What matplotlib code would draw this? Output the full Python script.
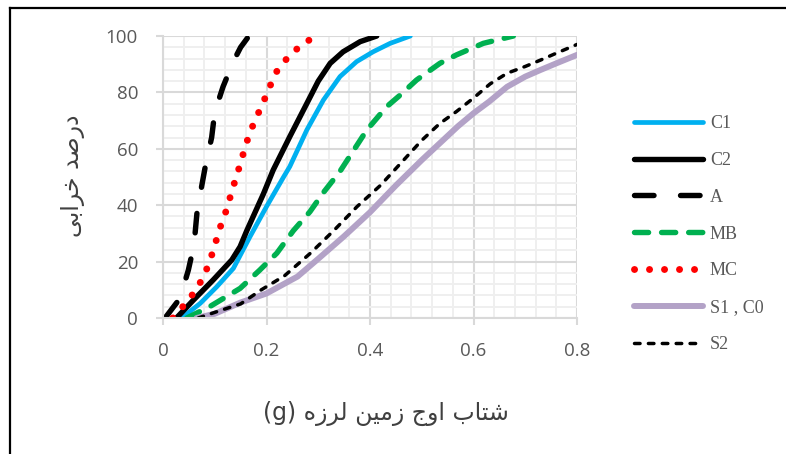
import matplotlib
matplotlib.use("Agg")
import matplotlib.pyplot as plt
from matplotlib.lines import Line2D
from matplotlib.ticker import MultipleLocator

# ---- data ----
c1_x = [0.036, 0.072, 0.104, 0.136, 0.168, 0.200, 0.233, 0.245, 0.278, 0.310, 0.342, 0.374, 0.406, 0.439, 0.478]
c1_y = [0, 5.2, 11.1, 17.6, 28.8, 39.5, 50, 53.7, 66.7, 77.3, 85.6, 90.9, 94.4, 97.4, 100]

c2_x = [0.026, 0.059, 0.097, 0.133, 0.149, 0.162, 0.194, 0.213, 0.245, 0.278, 0.300, 0.323, 0.348, 0.381, 0.413]
c2_y = [0, 6.4, 13.5, 20.6, 25.3, 31, 44, 52.5, 64.3, 76.1, 84, 90.3, 94.4, 98, 100]

a_x = [0.004, 0.033, 0.049, 0.060, 0.066, 0.073, 0.082, 0.094, 0.100, 0.116, 0.136, 0.150, 0.166]
a_y = [0, 7, 17, 26, 38, 45, 54, 64, 73, 82, 91, 96, 100]

mb_x = [0.046, 0.090, 0.149, 0.187, 0.220, 0.252, 0.284, 0.310, 0.342, 0.394, 0.432, 0.458, 0.490, 0.535, 0.567, 0.619, 0.677]
mb_y = [0, 4, 10.5, 17, 23, 31, 37.7, 44.5, 52, 66.7, 74.9, 79, 84.4, 90.3, 93.3, 97.4, 100]

mc_x = [0.019, 0.041, 0.063, 0.080, 0.092, 0.102, 0.112, 0.124, 0.133, 0.144, 0.154, 0.164, 0.176, 0.191, 0.204, 0.218, 0.238, 0.265, 0.295]
mc_y = [0, 4.6, 9.7, 15.2, 21, 27, 33, 39, 45, 51.4, 57.6, 63.6, 69.4, 75.3, 81, 87, 91.7, 96.5, 100]

s1_x = [0.065, 0.10, 0.15, 0.20, 0.26, 0.30, 0.35, 0.40, 0.45, 0.50, 0.535, 0.57, 0.60, 0.63, 0.665, 0.70, 0.73, 0.76, 0.80]
s1_y = [0, 1.5, 5.5, 8.7, 14.7, 21, 29, 37.5, 47, 56, 62, 68, 72.6, 76.7, 82, 85.6, 88, 90.3, 93.3]

s2_x = [0.068, 0.10, 0.15, 0.19, 0.235, 0.285, 0.33, 0.375, 0.42, 0.465, 0.50, 0.535, 0.567, 0.60, 0.632, 0.665, 0.70, 0.73, 0.76, 0.80]
s2_y = [0, 2, 5, 10, 15, 23, 31, 39.5, 47, 56, 63, 69, 73.2, 78, 83, 86.8, 89.2, 91.5, 93.9, 97]

labels = ["C1", "C2", "A", "MB", "MC", "S1 , C0", "S2"]
x_ticks = [0, 0.2, 0.4, 0.6, 0.8]
x_ticklabels = ["0", "0.2", "0.4", "0.6", "0.8"]
y_ticks = [0, 20, 40, 60, 80, 100]

# Persian labels (presentation forms, visual order)
xlabel_text = "(g) \uFEE9\uFEAF\uFEAE\uFEDF \uFEE6\uFEF4\uFEE3\uFEAF \uFE9D\uFEED\uFE8D \uFE8F\uFE8E\uFE98\uFEB7"
ylabel_text = "\uFEF0\uFE91\uFE8D\uFEAE\uFEA7 \uFEAA\uFEBB\uFEAD\uFEA9"

W, H = 786, 454
fig = plt.figure(figsize=(W / 100, H / 100), dpi=100)
ax = fig.add_axes([163 / W, 1 - 318 / H, (577 - 163) / W, (318 - 36) / H])

series = [
    (c1_x, c1_y, dict(color="#00b0f0", lw=3.4, solid_capstyle="round", solid_joinstyle="round")),
    (c2_x, c2_y, dict(color="#000000", lw=3.9, solid_capstyle="round", solid_joinstyle="round")),
    (a_x, a_y, dict(color="#000000", lw=3.9, dashes=(3.6, 4.9), dash_capstyle="round")),
    (mb_x, mb_y, dict(color="#00b050", lw=3.9, dashes=(2.6, 2.4), dash_capstyle="round")),
    (mc_x, mc_y, dict(color="#ff0000", lw=5.0, dashes=(0.01, 2.15), dash_capstyle="round")),
    (s1_x, s1_y, dict(color="#b3a2c7", lw=4.3, solid_capstyle="round", solid_joinstyle="round")),
    (s2_x, s2_y, dict(color="#000000", lw=2.5, dashes=(1.6, 2.4), dash_capstyle="round")),
]
for (xs, ys, kw), lab in zip(series, labels):
    ax.plot(xs, ys, label=lab, **kw)

ax.set_xlim(0, 0.8)
ax.set_ylim(0, 100)
ax.set_xticks(x_ticks)
ax.set_xticklabels(x_ticklabels)
ax.set_yticks(y_ticks)
ax.xaxis.set_minor_locator(MultipleLocator(0.04))
ax.yaxis.set_minor_locator(MultipleLocator(4))
ax.grid(which="minor", color="#efefef", lw=1.4, zorder=0)
ax.grid(which="major", color="#d9d9d9", lw=1.5, zorder=0)
ax.set_axisbelow(True)
for s in ["top", "right"]:
    ax.spines[s].set_visible(False)
for s in ["left", "bottom"]:
    ax.spines[s].set_color("#d9d9d9")
    ax.spines[s].set_linewidth(1.5)
ax.tick_params(which="major", length=5, width=1.5, color="#d9d9d9",
               labelcolor="#595959", labelsize=13.5)
ax.tick_params(axis="y", pad=13)
ax.tick_params(axis="x", pad=12)
ax.tick_params(which="minor", length=0)
for lab in ax.get_xticklabels() + ax.get_yticklabels():
    lab.set_fontfamily("Open Sans")

fig.text(386 / W, 1 - 413 / H, xlabel_text, family=["DejaVu Sans"], fontsize=17,
         color="#404040", ha="center", va="center")
fig.text(73 / W, 1 - 176 / H, ylabel_text, family=["DejaVu Sans"], fontsize=17,
         color="#404040", ha="center", va="center", rotation=90)

leg = ax.legend(loc="upper left", bbox_to_anchor=(634 / W, 1 - 115 / H),
                bbox_transform=fig.transFigure, frameon=False,
                prop={"family": "Liberation Serif", "size": 13},
                handlelength=3.8, handletextpad=0.4, labelspacing=1.1,
                borderpad=0, borderaxespad=0)
for t in leg.get_texts():
    t.set_color("#595959")

# outer frame
fig.add_artist(Line2D([10 / W, 10 / W], [0, 1 - 7.5 / H], transform=fig.transFigure,
                      color="black", lw=1.6))
fig.add_artist(Line2D([10 / W, 1], [1 - 7.5 / H, 1 - 7.5 / H], transform=fig.transFigure,
                      color="black", lw=1.6))

fig.savefig("out.png", dpi=100)
